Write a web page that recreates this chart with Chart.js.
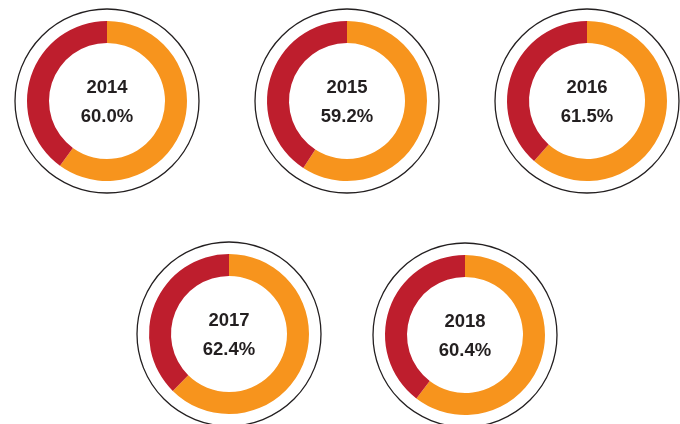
<!DOCTYPE html>
<html>
<head>
<meta charset="utf-8">
<script src="https://cdn.jsdelivr.net/npm/chart.js@4/dist/chart.umd.min.js"></script>
<style>
  html, body { margin: 0; padding: 0; background: #fff; }
  body { width: 680px; height: 424px; position: relative; overflow: hidden; }
  canvas { position: absolute; }
</style>
</head>
<body>
<canvas id="d0" width="200" height="200" style="left:7px;top:1px"></canvas>
<canvas id="d1" width="200" height="200" style="left:247px;top:1px"></canvas>
<canvas id="d2" width="200" height="200" style="left:487px;top:1px"></canvas>
<canvas id="d3" width="200" height="200" style="left:129px;top:234px"></canvas>
<canvas id="d4" width="200" height="200" style="left:365px;top:235px"></canvas>
<script>
const years = ['2014', '2015', '2016', '2017', '2018'];
const mainShare = [60.0, 59.2, 61.5, 62.4, 60.4];
const otherShare = [40.0, 40.8, 38.5, 37.6, 39.6];
const colors = ['#F7941D', '#BE1E2D'];

// outer ring + centre labels
const decor = {
    id: 'decor',
    afterDraw: function (chart) {
        const arc = chart.getDatasetMeta(0).data[0];
        if (!arc) return;
        const ctx = chart.ctx;
        const o = chart.options.plugins.decor;
        ctx.save();
        ctx.beginPath();
        ctx.arc(arc.x, arc.y, arc.outerRadius + 12, 0, Math.PI * 2);
        ctx.strokeStyle = '#231f20';
        ctx.lineWidth = 1.3;
        ctx.stroke();
        ctx.fillStyle = '#231f20';
        ctx.textAlign = 'center';
        ctx.textBaseline = 'middle';
        ctx.font = 'bold 18.5px "Liberation Sans", Arial, sans-serif';
        ctx.fillText(o.year, arc.x, arc.y - 13);
        ctx.fillText(o.pct, arc.x, arc.y + 16);
        ctx.restore();
    }
};

years.forEach(function (year, i) {
    new Chart(document.getElementById('d' + i).getContext('2d'), {
        type: 'doughnut',
        data: {
            labels: ['Share', 'Other'],
            datasets: [{
                data: [mainShare[i], otherShare[i]],
                backgroundColor: colors,
                borderWidth: 0
            }]
        },
        options: {
            responsive: false,
            animation: false,
            cutout: '72.5%',
            layout: { padding: 20 },
            plugins: {
                legend: { display: false },
                tooltip: { enabled: false },
                decor: { year: year, pct: mainShare[i].toFixed(1) + '%' }
            }
        },
        plugins: [decor]
    });
});
</script>
</body>
</html>
